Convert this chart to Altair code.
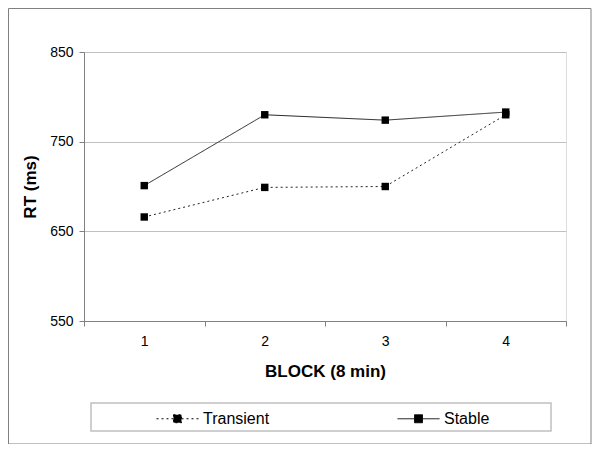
import altair as alt
import pandas as pd

blocks = ["1", "2", "3", "4"]
transient = [666, 699, 700, 780]
stable = [701, 780, 774, 783]
series_names = ["Transient", "Stable"]
y_ticks = [550, 650, 750, 850]

rows = []
for b, v in zip(blocks, transient):
    rows.append({"block": b, "rt": v, "series": "Transient"})
for b, v in zip(blocks, stable):
    rows.append({"block": b, "rt": v, "series": "Stable"})
df = pd.DataFrame(rows)

FONT = "Liberation Sans"

x_enc = alt.X(
    "block:O",
    scale=alt.Scale(type="band", paddingInner=0, paddingOuter=0),
    axis=alt.Axis(
        title="BLOCK (8 min)", labelAngle=0, tickBand="extent", grid=False,
        domainColor="#808080", tickColor="#808080", tickSize=5,
        labelPadding=8, labelFontSize=14, labelColor="#000",
        titleFontSize=17, titleFontWeight="bold", titlePadding=15, titleColor="#000",
        labelFont=FONT, titleFont=FONT,
    ),
)
y_enc = alt.Y(
    "rt:Q",
    scale=alt.Scale(domain=[550, 850], nice=False, zero=False),
    axis=alt.Axis(
        title="RT (ms)", values=y_ticks, grid=True, gridColor="#c0c0c0",
        domainColor="#808080", tickColor="#808080", tickSize=5,
        labelPadding=6, labelFontSize=14, labelColor="#000",
        titleFontSize=17, titleFontWeight="bold", titlePadding=10, titleColor="#000",
        labelFont=FONT, titleFont=FONT,
    ),
)

lines = alt.Chart(df).mark_line(color="#222222", strokeWidth=1).encode(
    x=x_enc,
    y=y_enc,
    strokeDash=alt.StrokeDash(
        "series:N",
        scale=alt.Scale(domain=series_names, range=[[2, 3], [1, 0]]),
        sort=series_names,
        legend=alt.Legend(
            title=None, orient="none", direction="horizontal",
            legendX=72, legendY=345,
            symbolType="M-1,0H1M-0.19,-0.19H0.19V0.19H-0.19Z",
            symbolSize=1764, symbolStrokeColor="#000", symbolFillColor="#000",
            symbolStrokeWidth=1, labelFontSize=16, labelFont=FONT, labelColor="#000",
            labelOffset=4, columnPadding=125, padding=0,
        ),
    ),
)

points = alt.Chart(df).mark_point(shape="square", filled=True, size=55, color="#000", opacity=1).encode(
    x="block:O", y="rt:Q"
)

one = pd.DataFrame({"a": [0]})
frame = alt.Chart(one).mark_rect(fill=None, stroke="#808080", strokeWidth=1).encode(
    x=alt.value(-75.5), x2=alt.value(507), y=alt.value(-43.5), y2=alt.value(392)
)
legend_box = alt.Chart(one).mark_rect(fill=None, stroke="#c0c0c0", strokeWidth=1.5).encode(
    x=alt.value(7), x2=alt.value(467), y=alt.value(351), y2=alt.value(379)
)

chart = alt.layer(frame, legend_box, lines, points).properties(
    width=482, height=269,
    autosize=alt.AutoSizeParams(type="none"),
    padding={"left": 76, "top": 44, "right": 26, "bottom": 123},
).configure_view(stroke="#c8c8c8", strokeWidth=1).configure(background="white")

chart.save("out.html", embed_options={"renderer": "svg", "actions": False})
